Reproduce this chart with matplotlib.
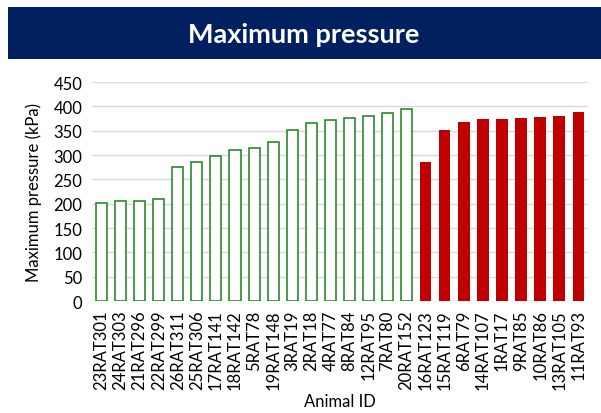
import matplotlib
matplotlib.use('Agg')
import matplotlib.pyplot as plt
from matplotlib.patches import Rectangle

# green (open) group
green_ids = ['23RAT301', '24RAT303', '21RAT296', '22RAT299', '26RAT311', '25RAT306',
             '17RAT141', '18RAT142', '5RAT78', '19RAT148', '3RAT19', '2RAT18',
             '4RAT77', '8RAT84', '12RAT95', '7RAT80', '20RAT152']
green_vals = [201, 205, 206, 209, 275, 285, 297, 310, 315, 326, 352, 366,
              371, 377, 380, 386, 394]

# red (filled) group
red_ids = ['16RAT123', '15RAT119', '6RAT79', '14RAT107', '1RAT17', '9RAT85',
           '10RAT86', '13RAT105', '11RAT93']
red_vals = [286, 351, 368, 375, 375, 377, 379, 380, 388]

yticks = [0, 50, 100, 150, 200, 250, 300, 350, 400, 450]

plt.rcParams['font.family'] = ['Lato', 'DejaVu Sans']

fig = plt.figure(figsize=(6.01, 4.14), dpi=100)
ax = fig.add_axes([0.153, 0.2705, 0.825, 0.529])

# title banner
fig.patches.append(Rectangle((0.0133, 0.855), 0.9867, 0.126, transform=fig.transFigure,
                             facecolor='#002060', edgecolor='none', zorder=0))
fig.text(0.505, 0.916, 'Maximum pressure', color='white', fontsize=19.5,
         fontweight='bold', ha='center', va='center')

xg = list(range(len(green_ids)))
xr = list(range(len(green_ids), len(green_ids) + len(red_ids)))
ax.bar(xg, green_vals, width=0.58, facecolor='white', edgecolor='#1A801A',
       linewidth=1.1, zorder=3)
ax.bar(xr, red_vals, width=0.6, facecolor='#C00000', edgecolor='none', zorder=3)

ax.set_xlim(-0.5, len(xg) + len(xr) - 0.5)
ax.set_ylim(0, 450)
ax.set_yticks(yticks)
ax.set_xticks(xg + xr)
ax.set_xticklabels(green_ids + red_ids, rotation=90, fontsize=12)
ax.tick_params(axis='y', labelsize=12, length=0, pad=7)
ax.tick_params(axis='x', length=0, pad=6)
ax.grid(axis='y', color='#D9D9D9', linewidth=1, zorder=0)
for s in ax.spines.values():
    s.set_visible(False)

ax.set_ylabel('Maximum pressure (kPa)', fontsize=12, labelpad=8)
ax.set_xlabel('Animal ID', fontsize=12, labelpad=3)

fig.savefig('out.png', dpi=100)
